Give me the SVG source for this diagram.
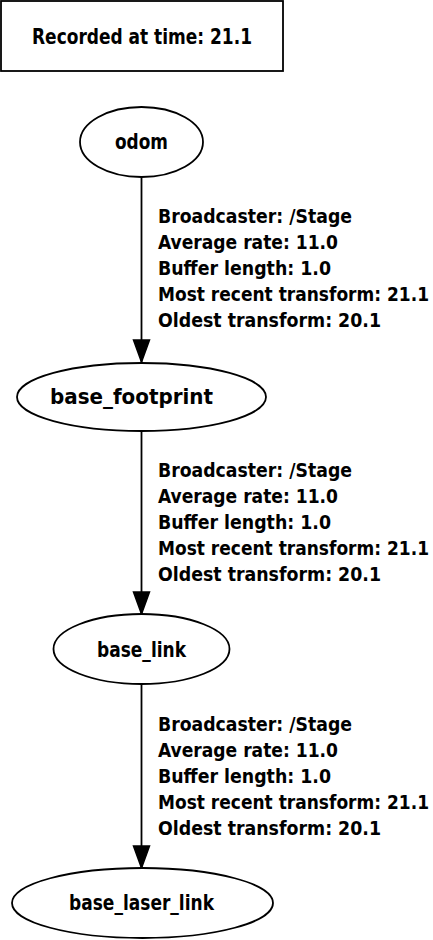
<svg xmlns="http://www.w3.org/2000/svg" width="433" height="940" viewBox="0 0 433 940">
<defs>
<style>
text{font-family:"DejaVu Sans Condensed","DejaVu Sans","Liberation Sans",sans-serif;font-weight:bold;font-stretch:condensed;fill:#000}
.t{font-size:22px}
.n{font-size:21px}
.l{font-size:20px}
.shape{fill:#fff;stroke:#000;stroke-width:1.8}
.edge{fill:none;stroke:#000;stroke-width:1.8;marker-end:url(#arr)}
</style>
<marker id="arr" markerUnits="userSpaceOnUse" markerWidth="26" markerHeight="20" refX="23" refY="9" orient="auto" overflow="visible">
<path d="M1,1 L23,9 L1,17 z" fill="#000" stroke="#000" stroke-width="1.5"/>
</marker>
</defs>
<rect width="433" height="940" fill="#fff"/>
<g id="title">
<rect class="shape" x="1" y="1" width="282" height="70"/>
<text class="t" x="32" y="44" textLength="220" lengthAdjust="spacingAndGlyphs">Recorded at time: 21.1</text>
</g>
<g id="connectors">
<g id="edge-odom-base_footprint">
<line class="edge" x1="141.5" y1="177" x2="141.5" y2="362"/>
<text class="l" x="158" y="223" textLength="194" lengthAdjust="spacingAndGlyphs">Broadcaster: /Stage</text>
<text class="l" x="158" y="249" textLength="180" lengthAdjust="spacingAndGlyphs">Average rate: 11.0</text>
<text class="l" x="158" y="275" textLength="173" lengthAdjust="spacingAndGlyphs">Buffer length: 1.0</text>
<text class="l" x="158" y="301" textLength="271" lengthAdjust="spacingAndGlyphs">Most recent transform: 21.1</text>
<text class="l" x="158" y="327" textLength="223" lengthAdjust="spacingAndGlyphs">Oldest transform: 20.1</text>
</g>
<g id="edge-base_footprint-base_link">
<line class="edge" x1="141.5" y1="431" x2="141.5" y2="614"/>
<text class="l" x="158" y="477" textLength="194" lengthAdjust="spacingAndGlyphs">Broadcaster: /Stage</text>
<text class="l" x="158" y="503" textLength="180" lengthAdjust="spacingAndGlyphs">Average rate: 11.0</text>
<text class="l" x="158" y="529" textLength="173" lengthAdjust="spacingAndGlyphs">Buffer length: 1.0</text>
<text class="l" x="158" y="555" textLength="271" lengthAdjust="spacingAndGlyphs">Most recent transform: 21.1</text>
<text class="l" x="158" y="581" textLength="223" lengthAdjust="spacingAndGlyphs">Oldest transform: 20.1</text>
</g>
<g id="edge-base_link-base_laser_link">
<line class="edge" x1="141.5" y1="684" x2="141.5" y2="868"/>
<text class="l" x="158" y="731" textLength="194" lengthAdjust="spacingAndGlyphs">Broadcaster: /Stage</text>
<text class="l" x="158" y="757" textLength="180" lengthAdjust="spacingAndGlyphs">Average rate: 11.0</text>
<text class="l" x="158" y="783" textLength="173" lengthAdjust="spacingAndGlyphs">Buffer length: 1.0</text>
<text class="l" x="158" y="809" textLength="271" lengthAdjust="spacingAndGlyphs">Most recent transform: 21.1</text>
<text class="l" x="158" y="835" textLength="223" lengthAdjust="spacingAndGlyphs">Oldest transform: 20.1</text>
</g>
</g>
<g id="odom">
<ellipse class="shape" cx="141.5" cy="142" rx="61.5" ry="35"/>
<text class="n" x="115" y="149" textLength="53" lengthAdjust="spacingAndGlyphs">odom</text>
</g>
<g id="base_footprint">
<ellipse class="shape" cx="141.5" cy="397" rx="124.5" ry="34"/>
<text class="n" x="50" y="404" textLength="163" lengthAdjust="spacingAndGlyphs">base_footprint</text>
</g>
<g id="base_link">
<ellipse class="shape" cx="141.5" cy="649" rx="88" ry="35"/>
<text class="n" x="97" y="657" textLength="89" lengthAdjust="spacingAndGlyphs">base_link</text>
</g>
<g id="base_laser_link">
<ellipse class="shape" cx="142.5" cy="903" rx="130.5" ry="35"/>
<text class="n" x="69" y="910" textLength="145" lengthAdjust="spacingAndGlyphs">base_laser_link</text>
</g>
</svg>
